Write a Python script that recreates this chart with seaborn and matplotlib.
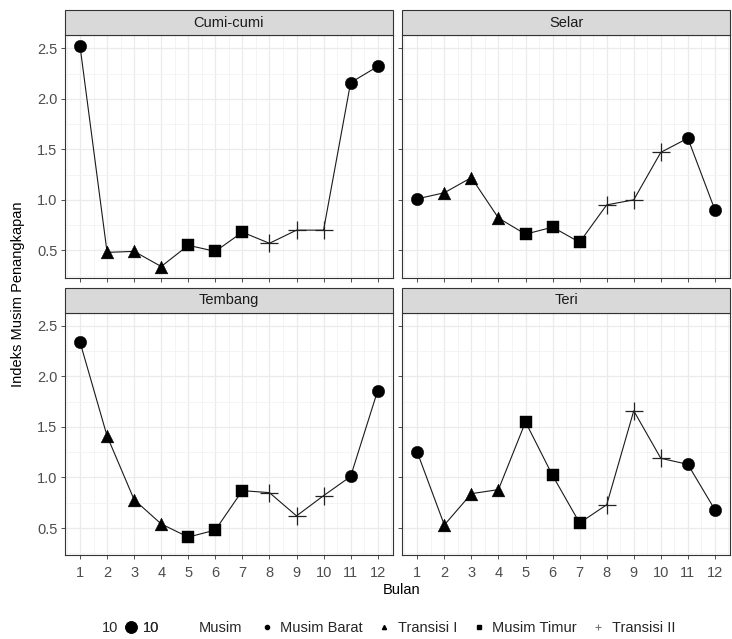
import numpy as np
import pandas as pd
import seaborn as sns
import matplotlib.pyplot as plt
from matplotlib.lines import Line2D
from matplotlib.patches import Rectangle
from matplotlib.ticker import MultipleLocator

months = list(range(1, 13))
musim = ["Musim Barat", "Transisi I", "Transisi I", "Transisi I",
         "Musim Timur", "Musim Timur", "Musim Timur",
         "Transisi II", "Transisi II", "Transisi II",
         "Musim Barat", "Musim Barat"]
musim_order = ["Musim Barat", "Transisi I", "Musim Timur", "Transisi II"]
ikan_order = ["Cumi-cumi", "Selar", "Tembang", "Teri"]

cumi = [2.52, 0.48, 0.49, 0.34, 0.55, 0.49, 0.68, 0.57, 0.70, 0.70, 2.16, 2.32]
selar = [1.01, 1.07, 1.22, 0.82, 0.66, 0.73, 0.58, 0.95, 1.00, 1.47, 1.61, 0.90]
tembang = [2.34, 1.41, 0.78, 0.54, 0.41, 0.48, 0.87, 0.85, 0.62, 0.82, 1.01, 1.86]
teri = [1.25, 0.53, 0.84, 0.88, 1.55, 1.02, 0.55, 0.73, 1.66, 1.19, 1.13, 0.68]

values = {"Cumi-cumi": cumi, "Selar": selar, "Tembang": tembang, "Teri": teri}
rows = []
for ikan in ikan_order:
    for m, s, v in zip(months, musim, values[ikan]):
        rows.append({"Ikan": ikan, "Bulan": m, "Musim": s, "Indeks": v})
df = pd.DataFrame(rows)

sns.set_theme(style="white")
plt.rcParams['font.family'] = ['Liberation Sans', 'DejaVu Sans']

g = sns.FacetGrid(df, col="Ikan", col_wrap=2, col_order=ikan_order,
                  sharex=True, sharey=True, despine=False)
g.figure.set_size_inches(7.32, 6.39)
g.figure.set_dpi(100)

filled_markers = {"Musim Barat": "o", "Transisi I": "^", "Musim Timur": "s"}
sizes = {"Musim Barat": 80, "Transisi I": 85, "Musim Timur": 70}


def draw(data, **kw):
    ax = plt.gca()
    sns.lineplot(data=data, x="Bulan", y="Indeks", color="#1A1A1A", lw=0.8,
                 estimator=None, sort=True, ax=ax, zorder=2)
    for m in ["Musim Barat", "Transisi I", "Musim Timur"]:
        sub = data[data["Musim"] == m]
        sns.scatterplot(data=sub, x="Bulan", y="Indeks", marker=filled_markers[m],
                        s=sizes[m], color="black", edgecolor="black",
                        linewidth=0.3, ax=ax, zorder=3)
    sub = data[data["Musim"] == "Transisi II"]
    sns.scatterplot(data=sub, x="Bulan", y="Indeks", marker="+", s=180,
                    color="#222222", linewidth=0.9, ax=ax, zorder=3)


g.map_dataframe(draw)
g.set_titles("")

for ax, name in zip(g.axes.flat, ikan_order):
    ax.set_xlim(0.45, 12.55)
    ax.set_ylim(0.23, 2.63)
    ax.set_xticks(months)
    ax.set_yticks([0.5, 1.0, 1.5, 2.0, 2.5])
    ax.set_yticklabels(["0.5", "1.0", "1.5", "2.0", "2.5"])
    ax.xaxis.set_minor_locator(MultipleLocator(0.5))
    ax.yaxis.set_minor_locator(MultipleLocator(0.25))
    ax.grid(True, which="major", color="#EBEBEB", lw=0.9)
    ax.grid(True, which="minor", color="#F3F3F3", lw=0.6)
    ax.set_axisbelow(True)
    ax.set_facecolor("white")
    for sp in ax.spines.values():
        sp.set_color("#333333")
        sp.set_linewidth(0.8)
    ax.tick_params(axis="both", which="major", length=3, width=0.6,
                   color="#333333", labelsize=10.5, labelcolor="#4D4D4D",
                   pad=2.5, left=True, bottom=True)
    ax.tick_params(axis="x", which="major", pad=4.5)
    ax.tick_params(axis="both", which="minor", length=0)
    ax.set_xlabel("")
    ax.set_ylabel("")
    strip_h = 0.103
    ax.add_patch(Rectangle((0, 1), 1, strip_h, transform=ax.transAxes,
                           facecolor="#D9D9D9", edgecolor="#333333",
                           lw=0.8, clip_on=False, zorder=5))
    ax.text(0.5, 1 + strip_h / 2, name, transform=ax.transAxes, ha="center",
            va="center", fontsize=10.5, color="#1A1A1A", zorder=6)

for ax in g.axes.flat[:2]:
    ax.tick_params(labelbottom=False)
for ax in [g.axes.flat[1], g.axes.flat[3]]:
    ax.tick_params(labelleft=False)

g.figure.subplots_adjust(left=0.089, right=0.997, top=0.945, bottom=0.131,
                         wspace=0.03, hspace=0.145)

fig = g.figure
fig.text(0.025, 0.54, "Indeks Musim Penangkapan", rotation=90, ha="center",
         va="center", fontsize=10.5, color="black")
fig.text(0.549, 1 - 590 / 639, "Bulan", ha="center", va="center",
         fontsize=10.5, color="black")

# bottom legends
ly = 0.017
fig.text(102 / 732, ly, "10", ha="left", va="center", fontsize=10.5)
h10 = [Line2D([], [], ls="", marker="o", color="black", markersize=8)]
leg1 = fig.legend(h10, ["10"], loc="center left", bbox_to_anchor=(124 / 732, ly),
                  frameon=False, fontsize=10.5, handlelength=1.0,
                  handletextpad=0.3, borderpad=0, borderaxespad=0)
fig.text(199 / 732, ly, "Musim", ha="left", va="center", fontsize=10.5)
hs = [Line2D([], [], ls="", marker="o", color="black", markersize=3),
      Line2D([], [], ls="", marker="^", color="black", markersize=3),
      Line2D([], [], ls="", marker="s", color="black", markersize=2.5),
      Line2D([], [], ls="", marker="+", color="#777777", markersize=4, mew=0.8)]
leg2 = fig.legend(hs, musim_order, loc="center left",
                  bbox_to_anchor=(258 / 732, ly), ncol=4, frameon=False,
                  fontsize=10.5, handlelength=1.2, handletextpad=0.3,
                  columnspacing=0.9, borderpad=0, borderaxespad=0)
fig.add_artist(leg1)

fig.savefig("out.png", dpi=100)
